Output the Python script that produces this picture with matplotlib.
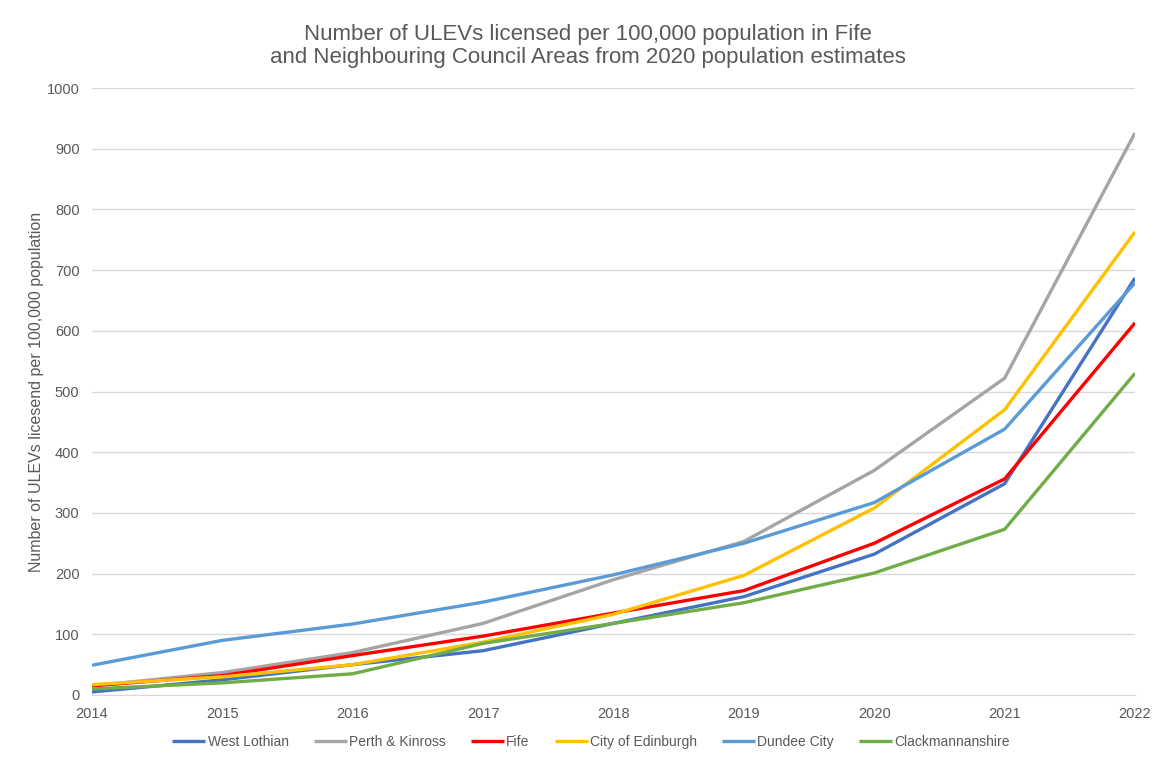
import matplotlib
matplotlib.use("Agg")
import matplotlib.pyplot as plt

years = [2014, 2015, 2016, 2017, 2018, 2019, 2020, 2021, 2022]

west_lothian = [5, 25, 50, 73, 118, 162, 232, 348, 687]
perth_kinross = [15, 37, 70, 118, 190, 253, 370, 522, 926]
fife = [15, 32, 65, 97, 135, 172, 250, 356, 613]
edinburgh = [17, 30, 50, 87, 133, 197, 308, 470, 763]
dundee = [49, 90, 117, 153, 198, 250, 317, 438, 679]
clackmannanshire = [10, 20, 35, 85, 118, 152, 201, 273, 530]

series = [
    ("West Lothian", west_lothian, "#4472C4"),
    ("Perth & Kinross", perth_kinross, "#A5A5A5"),
    ("Fife", fife, "#FF0000"),
    ("City of Edinburgh", edinburgh, "#FFC000"),
    ("Dundee City", dundee, "#5B9BD5"),
    ("Clackmannanshire", clackmannanshire, "#70AD47"),
]


def main():
    plt.rcParams['font.family'] = ['Liberation Sans', 'DejaVu Sans']
    fig = plt.figure(figsize=(11.62, 7.62), dpi=100)
    ax = fig.add_axes([92 / 1162, 1 - 695 / 762, (1135 - 92) / 1162, (695 - 88) / 762])

    for name, vals, col in series:
        ax.plot(years, vals, color=col, linewidth=2.4, label=name, solid_capstyle='butt')

    ax.set_xlim(2014, 2022)
    ax.set_ylim(0, 1000)
    ax.set_xticks(years)
    ax.set_yticks(range(0, 1001, 100))
    ax.tick_params(length=0, labelsize=10.5, colors='#595959')
    ax.tick_params(axis='x', pad=9)
    ax.tick_params(axis='y', pad=9)
    ax.grid(True, axis='y', color='#D9D9D9', linewidth=1)
    ax.set_axisbelow(True)
    for s in ['top', 'right', 'left']:
        ax.spines[s].set_visible(False)
    ax.spines['bottom'].set_color('#D9D9D9')

    ax.set_ylabel('Number of ULEVs licesend per 100,000 population', fontsize=11.5,
                  color='#595959', va='center')
    ax.yaxis.set_label_coords((37 - 92) / 1043, 0.5)
    fig.text(588 / 1162, 1 - 46 / 762,
             'Number of ULEVs licensed per 100,000 population in Fife\n'
             'and Neighbouring Council Areas from 2020 population estimates',
             ha='center', va='center', fontsize=16, color='#595959', linespacing=1.15)

    fig.legend(loc='center', bbox_to_anchor=(591 / 1162, 1 - 742 / 762), ncol=6,
               frameon=False, fontsize=10, handlelength=2.4, columnspacing=1.8,
               handletextpad=0.15, labelcolor='#595959')

    fig.savefig('out.png', dpi=100)


if __name__ == '__main__':
    main()
